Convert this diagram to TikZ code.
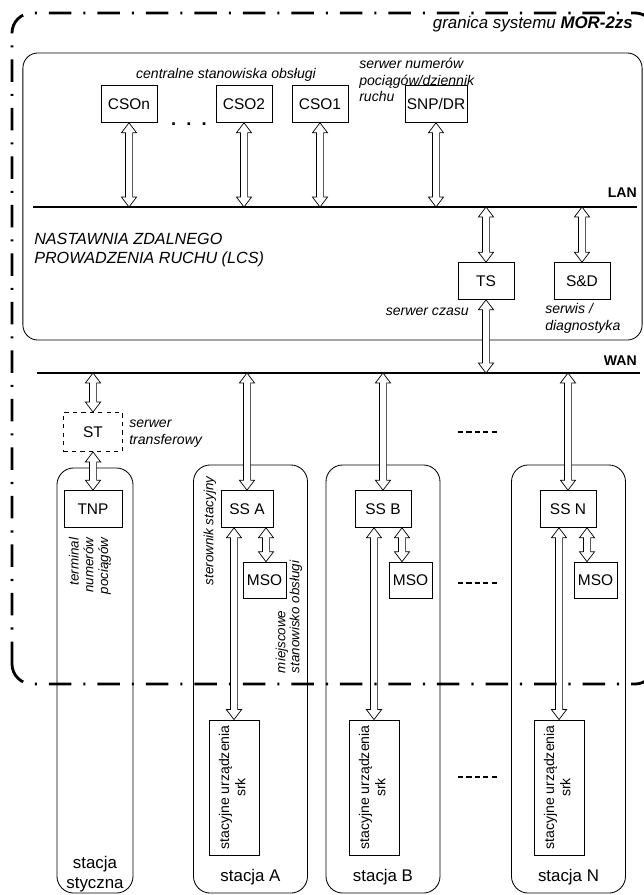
\documentclass[tikz,border=0pt]{standalone}
\usepackage{fontspec}
\setmainfont{Liberation Sans}
\usepackage{graphicx}
\usetikzlibrary{calc,positioning}

\newcommand{\linkarrow}[2]{%
  \draw[biarrow] let \p1=#1, \p2=#2 in
    (\x1,\y1) -- (\x1+0.19cm,\y1-0.25cm) -- (\x1+0.09cm,\y1-0.25cm)
    -- (\x1+0.09cm,\y2+0.25cm) -- (\x1+0.19cm,\y2+0.25cm) -- (\x1,\y2)
    -- (\x1-0.19cm,\y2+0.25cm) -- (\x1-0.09cm,\y2+0.25cm)
    -- (\x1-0.09cm,\y1-0.25cm) -- (\x1-0.19cm,\y1-0.25cm) -- cycle;}

\begin{document}
\begin{tikzpicture}[
    x=0.025cm, y=-0.025cm,
    unit/.style={draw, line width=0.6pt, minimum width=1.4cm,
                 minimum height=0.92cm, inner sep=1pt,
                 font=\fontsize{11}{12}\selectfont},
    station/.style={draw, line width=0.6pt, rounded corners=0.42cm,
                    minimum width=2.85cm, minimum height=10.7cm},
    note/.style={inner sep=0pt, font=\fontsize{10}{12}\selectfont\itshape},
    stname/.style={inner sep=0pt, font=\fontsize{12}{14}\selectfont},
    netname/.style={inner sep=0pt, anchor=east,
                    font=\fontsize{10}{12}\selectfont\bfseries},
    bus/.style={line width=2pt},
    border/.style={line width=2pt, rounded corners=0.5cm,
                   dash pattern=on 16pt off 8.5pt on 1.5pt off 8.5pt},
    elide/.style={line width=2pt, dash pattern=on 3.6pt off 2.4pt},
    biarrow/.style={draw, fill=white, line width=0.5pt, line join=miter},
]
\useasboundingbox (0,0) rectangle (644,895);

\node[draw, line width=0.6pt, rounded corners=0.375cm, minimum width=15.475cm,
      minimum height=7.175cm] (lcs) at (332.5,196.5) {};
\node[inner sep=0pt, anchor=east, font=\fontsize{12}{14}\selectfont\itshape]
      (sys) at (633,24) {granica systemu \textbf{MOR-2zs}};

\coordinate (lanw) at (33,207);
\coordinate (lane) at (637,207);
\coordinate (wanw) at (37,373);
\coordinate (wane) at (640,373);
\draw[bus] (lanw) -- (lane);
\draw[bus] (wanw) -- (wane);
\node[netname] (lan) at (637,193) {LAN};
\node[netname] (wan) at (637,361) {WAN};

\node[unit] (cson) at (129,104) {CSOn};
\node[unit] (cso2) at (244,104) {CSO2};
\node[unit] (cso1) at (320,104) {CSO1};
\node[unit, minimum width=1.55cm] (snp) at (436,104) {SNP/DR};
\node[inner sep=0pt, font=\fontsize{13}{14}\selectfont\bfseries]
      (dots) at (189,124) {.\ \ .\ \ .};
\node[note] (cent) at (226,75) {centralne stanowiska obsługi};
\node[note, anchor=west, align=left] (snpl) at (359,80)
      {serwer numerów\\pociągów/dziennik\\ruchu};
\linkarrow{(cson.south)}{(cson.south |- lanw)}
\linkarrow{(cso2.south)}{(cso2.south |- lanw)}
\linkarrow{(cso1.south)}{(cso1.south |- lanw)}
\linkarrow{(snp.south)}{(snp.south |- lanw)}

\node[inner sep=0pt, anchor=west, align=left,
      font=\fontsize{11.5}{14}\selectfont\itshape] (lcsl) at (34,250)
      {NASTAWNIA ZDALNEGO\\PROWADZENIA RUCHU (LCS)};
\node[unit] (ts) at (486,281) {TS};
\node[unit] (sd) at (582,281) {S\&D};
\node[note, anchor=east] (tsl) at (469,312) {serwer czasu};
\node[note, anchor=west, align=left] (sdl) at (545,318) {serwis /\\diagnostyka};
\linkarrow{(ts.north |- lanw)}{(ts.north)}
\linkarrow{(sd.north |- lanw)}{(sd.north)}
\linkarrow{(ts.south)}{(ts.south |- wanw)}

\node[unit, dashed, minimum width=1.475cm, minimum height=0.975cm] (st) at (93,432) {ST};
\node[note, anchor=west, align=left] (stl) at (129,434) {serwer\\transferowy};
\linkarrow{(st.north |- wanw)}{(st.north)}

\node[station, minimum width=1.9cm, minimum height=10.625cm] (sty) at (95,680.5) {};
\node[station] (sta) at (250.5,679) {};
\node[station] (stb) at (383,679) {};
\node[station] (stn) at (568.5,679) {};

\node[unit, minimum width=1.45cm] (tnp) at (93,509) {TNP};
\linkarrow{(st.south)}{(tnp.north)}
\node[note, rotate=90, align=right, font=\fontsize{9.5}{10.5}\selectfont\itshape]
      (tnpl) at (90,566) {terminal\\numerów\\pociągów};

\node[unit, minimum width=1.3cm] (ssa) at (247,509) {SS A};
\node[unit] (ssb) at (383,509) {SS B};
\node[unit] (ssn) at (568,509) {SS N};
\node[unit, minimum width=1.075cm] (msoa) at (264.5,580.5) {MSO};
\node[unit, minimum width=1.075cm] (msob) at (410.5,580.5) {MSO};
\node[unit, minimum width=1.075cm] (mson) at (595.5,580.5) {MSO};
\node[note, rotate=90, font=\fontsize{9.5}{11}\selectfont\itshape]
      (ssl) at (210,531) {sterownik stacyjny};
\node[note, rotate=90, align=left, font=\fontsize{9.5}{10}\selectfont\itshape]
      (msol) at (289,617) {miejscowe\\stanowisko obsługi};

\node[unit, minimum width=1.25cm, minimum height=3.375cm,
      font=\fontsize{10}{11.5}\selectfont] (srka) at (234,787.5)
      {\rotatebox{90}{\begin{tabular}{@{}c@{}}stacyjne urządzenia\\srk\end{tabular}}};
\node[unit, minimum width=1.25cm, minimum height=3.375cm,
      font=\fontsize{10}{11.5}\selectfont] (srkb) at (374,787.5)
      {\rotatebox{90}{\begin{tabular}{@{}c@{}}stacyjne urządzenia\\srk\end{tabular}}};
\node[unit, minimum width=1.25cm, minimum height=3.375cm,
      font=\fontsize{10}{11.5}\selectfont] (srkn) at (559,787.5)
      {\rotatebox{90}{\begin{tabular}{@{}c@{}}stacyjne urządzenia\\srk\end{tabular}}};

\coordinate (ma) at ([xshift=0.475cm]ssa.south);
\coordinate (mb) at ([xshift=0.475cm]ssb.south);
\coordinate (mn) at ([xshift=0.475cm]ssn.south);
\linkarrow{(ssa.north |- wanw)}{(ssa.north)}
\linkarrow{(ssb.north |- wanw)}{(ssb.north)}
\linkarrow{(ssn.north |- wanw)}{(ssn.north)}
\linkarrow{(ma)}{(ma |- msoa.north)}
\linkarrow{(mb)}{(mb |- msob.north)}
\linkarrow{(mn)}{(mn |- mson.north)}
\linkarrow{(srka.north |- ssa.south)}{(srka.north)}
\linkarrow{(srkb.north |- ssb.south)}{(srkb.north)}
\linkarrow{(srkn.north |- ssn.south)}{(srkn.north)}

\node[stname, align=center] (styname) at (95,874) {stacja\\styczna};
\node[stname] (staname) at (250.5,877) {stacja A};
\node[stname] (stbname) at (383,877) {stacja B};
\node[stname] (stnname) at (568.5,877) {stacja N};

\draw[elide] (458,432) -- (498,432);
\draw[elide] (458,583) -- (498,583);
\draw[elide] (458,777) -- (498,777);

\draw[border] (12,684) rectangle (655,13);
\end{tikzpicture}
\end{document}
